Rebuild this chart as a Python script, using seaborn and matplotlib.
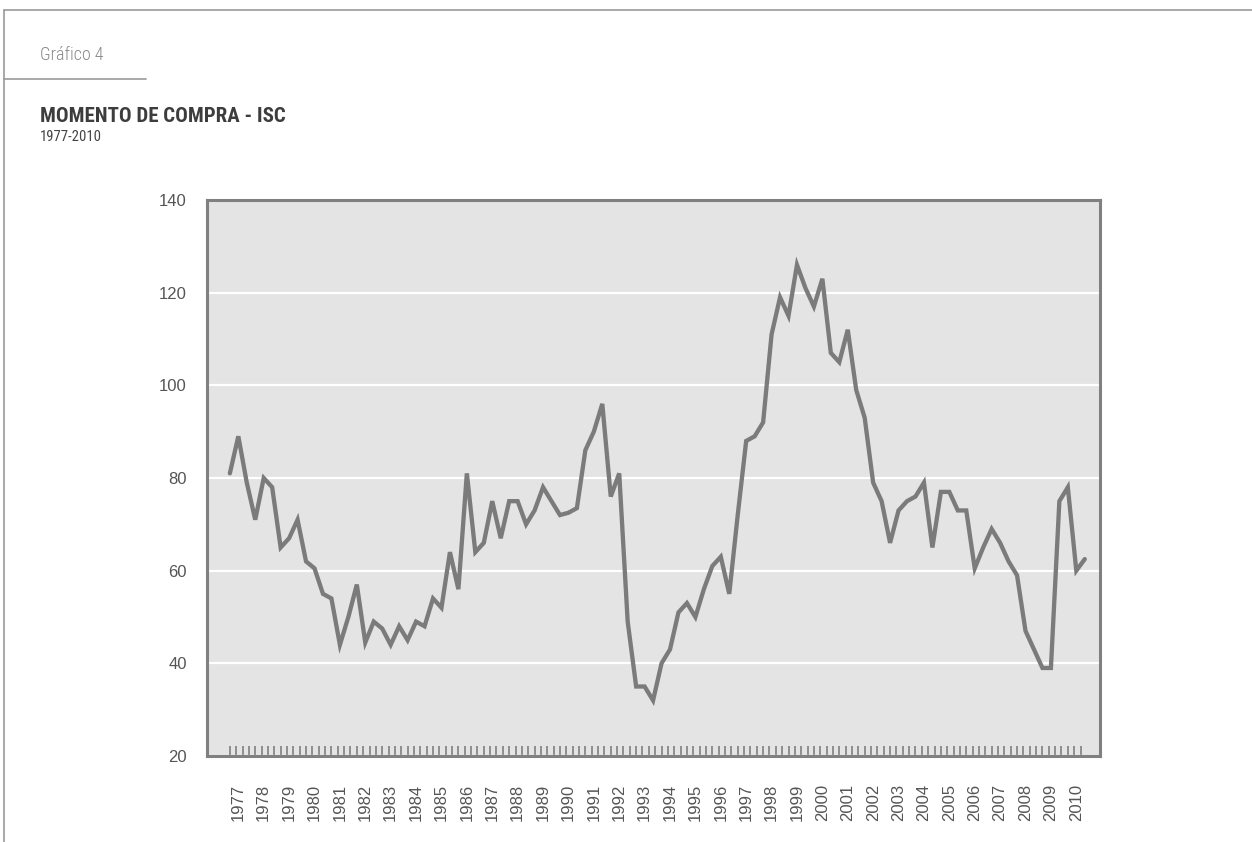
import numpy as np
import pandas as pd
import matplotlib
matplotlib.use('Agg')
import matplotlib.pyplot as plt
import seaborn as sns
from matplotlib import font_manager
from matplotlib.lines import Line2D

# ==================== DATA ====================
# three readings per year, 1977-2010
years = list(range(1977, 2011))
isc = [
    81, 89, 79,   71, 80, 78,   65, 67, 71,   62, 60.5, 55,
    54, 44, 50,   57, 44.5, 49, 47.5, 44, 48, 45, 49, 48,
    54, 52, 64,   56, 81, 64,   66, 75, 67,   75, 75, 70,
    73, 78, 75,   72, 72.5, 73.5, 86, 90, 96, 76, 81, 49,
    35, 35, 32,   40, 43, 51,   53, 50, 56,   61, 63, 55,
    72, 88, 89,   92, 111, 119, 115, 126, 121, 117, 123, 107,
    105, 112, 99, 93, 79, 75,   66, 73, 75,   76, 79, 65,
    77, 77, 73,   73, 60.5, 65, 69, 66, 62,  59, 47, 43,
    39, 39, 75,   78, 60, 62.5,
]
y_ticks = [20, 40, 60, 80, 100, 120, 140]

df = pd.DataFrame({'idx': np.arange(len(isc)), 'isc': isc})

# ==================== STYLE ====================
sns.set_style('white')
names = {f.name for f in font_manager.fontManager.ttflist}
cond_font = 'Liberation Sans'
for cand in ['Liberation Sans Narrow', 'Roboto Condensed', 'Open Sans Condensed',
             'Noto Sans Condensed', 'DejaVu Sans Condensed']:
    if cand in names:
        cond_font = cand
        break
narrow = cond_font != 'Liberation Sans'
plt.rcParams['font.family'] = ['Liberation Sans', 'DejaVu Sans']

line_color = '#7b7b7b'
spine_color = '#808080'
text_color = '#555555'

fig = plt.figure(figsize=(12.52, 8.42), dpi=100)
ax = fig.add_axes([207 / 1252, 1 - 756 / 842, 893 / 1252, 556 / 842])
ax.set_facecolor('#e4e4e4')

sns.lineplot(data=df, x='idx', y='isc', ax=ax, color=line_color,
             linewidth=3.1, solid_joinstyle='miter')

ax.set_xlim(-2.7, 102.8)
ax.set_ylim(20, 140)
ax.set_xlabel('')
ax.set_ylabel('')

# y axis
ax.set_yticks(y_ticks)
ax.set_yticks(np.arange(30, 140, 20), minor=True)
ax.tick_params(axis='y', which='major', direction='out', length=11.5, width=1.4,
               color=spine_color, labelsize=12, labelcolor=text_color, pad=3)
ax.tick_params(axis='y', which='minor', direction='out', length=5.5, width=1.4,
               color=spine_color)
ticks = ax.yaxis.get_major_ticks()
ticks[0].tick1line.set_visible(False)
ticks[-1].tick1line.set_visible(False)
ax.yaxis.grid(True, which='major', color='white', linewidth=1.6)
ax.set_axisbelow(True)

# x axis: one label per year, small inner ticks along the bottom
ax.set_xticks(np.arange(len(years)) * 3 + 1)
ax.set_xticklabels([str(y) for y in years], rotation=90)
ax.tick_params(axis='x', which='major', length=0, pad=20, labelsize=12,
               labelcolor=text_color)
ax.set_xticks(np.arange(0, len(isc) - 0.9, 0.75), minor=True)
ax.tick_params(axis='x', which='minor', direction='in', length=7, width=1.2,
               color=spine_color, bottom=True)

for side in ['left', 'right', 'top', 'bottom']:
    ax.spines[side].set_visible(True)
    ax.spines[side].set_color(spine_color)
    ax.spines[side].set_linewidth(2.2)

# ==================== FRAME AND TITLES ====================
frame_color = '#9a9a9a'
fig.add_artist(Line2D([4 / 1252, 1], [1 - 10 / 842, 1 - 10 / 842],
                      color=frame_color, linewidth=1.2))
fig.add_artist(Line2D([4 / 1252, 4 / 1252], [0, 1 - 10 / 842],
                      color=frame_color, linewidth=1.2))
fig.add_artist(Line2D([4 / 1252, 146 / 1252], [1 - 79 / 842, 1 - 79 / 842],
                      color=frame_color, linewidth=1.2))

fig.text(40 / 1252, 1 - 55 / 842, 'Gráfico 4', fontsize=13, color='#8a8a8a',
         va='center', ha='left', fontweight='light',
         family=[cond_font, 'DejaVu Sans'])
fig.text(40 / 1252, 1 - 117 / 842, 'MOMENTO DE COMPRA - ISC',
         fontsize=15 if narrow else 13, color='#3d3d3d', va='center', ha='left',
         fontweight='semibold', family=[cond_font, 'DejaVu Sans'])
fig.text(40 / 1252, 1 - 137 / 842, '1977-2010', fontsize=10.5 if narrow else 9.5,
         color='#444444', va='center', ha='left',
         family=[cond_font, 'DejaVu Sans'])

fig.savefig('out.png', dpi=100)
